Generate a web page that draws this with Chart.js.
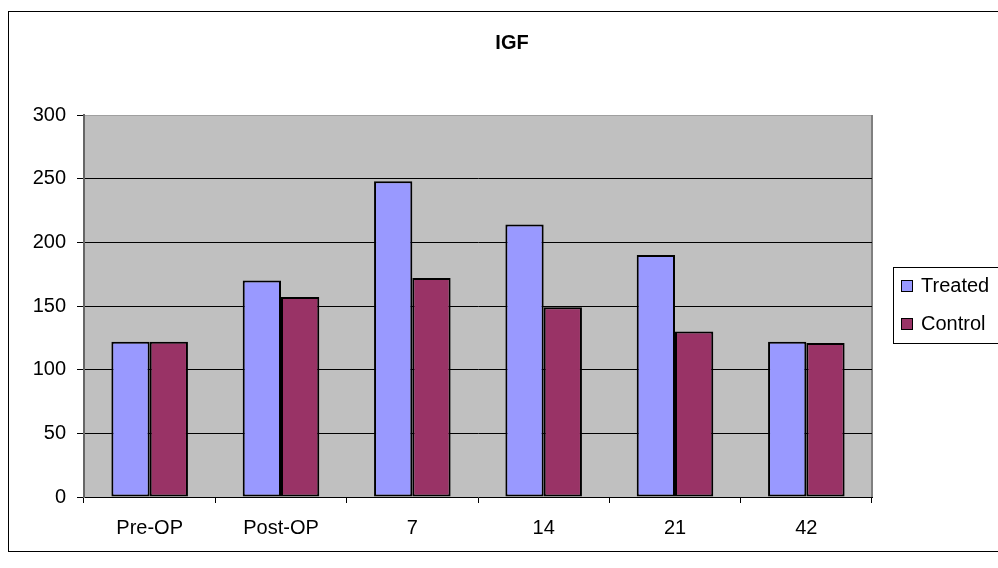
<!DOCTYPE html>
<html>
<head>
<meta charset="utf-8">
<title>IGF</title>
<script src="https://cdn.jsdelivr.net/npm/chart.js@4.4.1/dist/chart.umd.min.js"></script>
<style>
  html, body { margin: 0; padding: 0; background: #fff; }
  #wrap { width: 998px; height: 568px; }
</style>
</head>
<body>
<div id="wrap"><canvas id="igfChart" width="998" height="568"></canvas></div>
<script>
// data
const categories = ["Pre-OP", "Post-OP", "7", "14", "21", "42"];
const treatedValues = [122, 170, 248, 214, 190, 122];
const controlValues = [122, 157, 172, 149, 130, 121];
const seriesNames = ["Treated", "Control"];
const seriesColors = ["#9999FF", "#993366"];
const yTicks = [0, 50, 100, 150, 200, 250, 300];

const FONT = "'Liberation Sans', Arial, sans-serif";

// frame, grey plot area, title and legend box (excel look)
const excelFrame = {
  id: 'excelFrame',
  beforeDraw(chart) {
    const { ctx, chartArea: a } = chart;
    ctx.save();
    ctx.fillStyle = '#fff';
    ctx.fillRect(0, 0, chart.width, chart.height);
    ctx.strokeStyle = '#000';
    ctx.lineWidth = 1;
    ctx.strokeRect(8.5, 11.5, 1000, 540);
    ctx.fillStyle = '#C0C0C0';
    ctx.fillRect(a.left, a.top, a.right - a.left, a.bottom - a.top);
    ctx.strokeStyle = '#a0a0a0';
    ctx.beginPath();
    ctx.moveTo(a.left, a.top + 0.5);
    ctx.lineTo(a.right, a.top + 0.5);
    ctx.stroke();
    ctx.strokeStyle = '#808080';
    ctx.lineWidth = 2;
    ctx.beginPath();
    ctx.moveTo(a.right, a.top);
    ctx.lineTo(a.right, a.bottom);
    ctx.stroke();
    ctx.restore();
  },
  afterDraw(chart) {
    const { ctx } = chart;
    ctx.save();
    // title
    ctx.fillStyle = '#000';
    ctx.font = "bold 20px " + FONT;
    ctx.textAlign = 'center';
    ctx.textBaseline = 'middle';
    ctx.fillText('IGF', 512, 43);
    // legend
    ctx.fillStyle = '#fff';
    ctx.fillRect(893.5, 267.5, 120, 76);
    ctx.strokeStyle = '#000';
    ctx.lineWidth = 1;
    ctx.strokeRect(893.5, 267.5, 120, 76);
    ctx.font = "20px " + FONT;
    ctx.textAlign = 'left';
    chart.data.datasets.forEach((ds, i) => {
      const cy = 286 + i * 38;
      ctx.fillStyle = ds.backgroundColor;
      ctx.fillRect(901.5, cy - 5.5, 11, 11);
      ctx.strokeStyle = '#000';
      ctx.strokeRect(901.5, cy - 5.5, 11, 11);
      ctx.fillStyle = '#000';
      ctx.fillText(ds.label, 921, cy);
    });
    ctx.restore();
  }
};

const ctx = document.getElementById('igfChart').getContext('2d');
new Chart(ctx, {
  type: 'bar',
  data: {
    labels: categories,
    datasets: [
      {
        label: seriesNames[0],
        data: treatedValues,
        backgroundColor: seriesColors[0],
        borderColor: '#000',
        borderWidth: 2,
        borderSkipped: false
      },
      {
        label: seriesNames[1],
        data: controlValues,
        backgroundColor: seriesColors[1],
        borderColor: '#000',
        borderWidth: 2,
        borderSkipped: false
      }
    ]
  },
  options: {
    responsive: false,
    animation: false,
    layout: { padding: { left: 8, top: 115, right: 126, bottom: 0 } },
    datasets: { bar: { categoryPercentage: 0.583, barPercentage: 1.0 } },
    plugins: {
      legend: { display: false },
      title: { display: false },
      tooltip: { enabled: false }
    },
    scales: {
      x: {
        afterFit: s => { s.height = 71; },
        grid: {
          offset: true,
          drawOnChartArea: false,
          drawTicks: true,
          tickLength: 6,
          tickColor: '#000'
        },
        border: { color: '#000', width: 1 },
        ticks: {
          color: '#000',
          padding: 13,
          maxRotation: 0,
          font: { family: FONT, size: 20 }
        }
      },
      y: {
        min: 0,
        max: 300,
        afterFit: s => { s.width = 76; },
        afterBuildTicks: s => { s.ticks = yTicks.map(v => ({ value: v })); },
        grid: {
          color: c => (c.tick && (c.tick.value === 0 || c.tick.value === 300)) ? 'rgba(0,0,0,0)' : '#000',
          lineWidth: 1,
          tickLength: 7,
          tickColor: '#000'
        },
        border: { color: '#666', width: 2 },
        ticks: {
          color: '#000',
          padding: 11,
          font: { family: FONT, size: 20 }
        }
      }
    }
  },
  plugins: [excelFrame]
});
</script>
</body>
</html>
